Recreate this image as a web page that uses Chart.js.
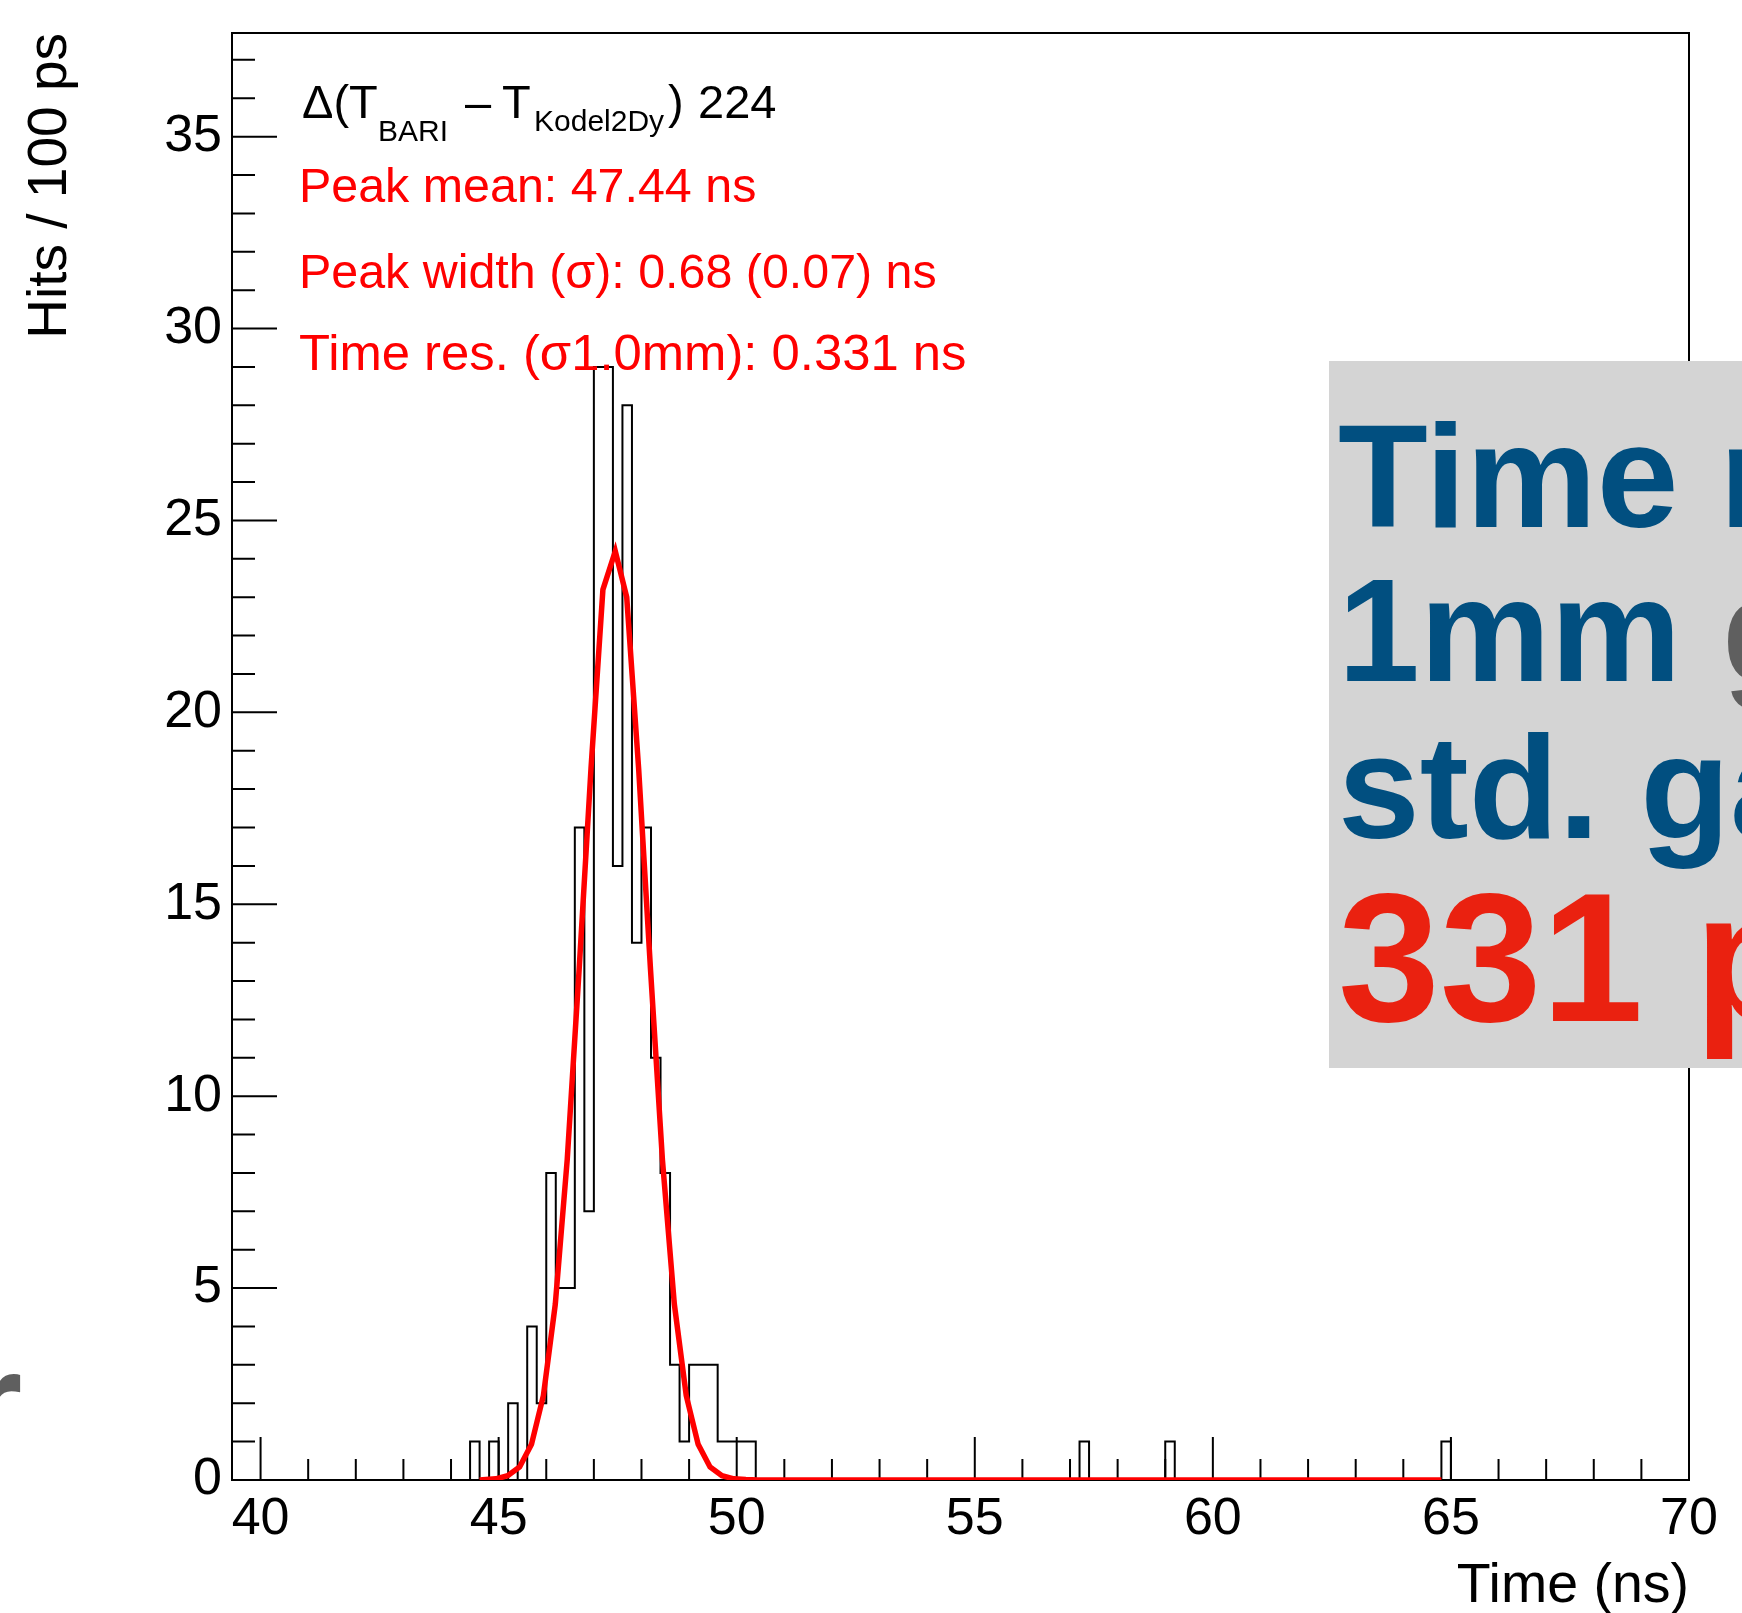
<!DOCTYPE html>
<html>
<head>
<meta charset="utf-8">
<title>Time difference BARI - Kodel2Dy</title>
<script src="https://cdn.jsdelivr.net/npm/chart.js@4.4.1/dist/chart.umd.min.js"></script>
<style>
  html, body { margin: 0; padding: 0; background: #ffffff; }
  canvas { display: block; }
</style>
</head>
<body>
<canvas id="myChart" width="1742" height="1613" style="width:1742px;height:1613px"></canvas>
<script>
const fontFam = "'Liberation Sans', Arial, Helvetica, sans-serif";

// histogram range (ns) and bin width
const xMin = 39.4;
const xMax = 70;
const yMax = 37.7;
const binWidth = 0.2;

// lower edge of each filled bin, and hits in it
const binLow = [44.4, 44.8, 45.2, 45.6, 45.8, 46.0, 46.2, 46.4, 46.6, 46.8,
                47.0, 47.2, 47.4, 47.6, 47.8, 48.0, 48.2, 48.4, 48.6, 48.8,
                49.0, 49.2, 49.4, 49.6, 49.8, 50.0, 50.2, 57.2, 59.0, 64.8];
const binHits = [1, 1, 2, 4, 2, 8, 5, 5, 17, 7,
                 29, 29, 16, 28, 14, 17, 11, 8, 3, 1,
                 3, 3, 3, 1, 1, 1, 1, 1, 1, 1];

// gaussian fit, sampled points
const fitTime = [44.6, 44.94, 45.19, 45.44, 45.69, 45.94, 46.19, 46.44, 46.69, 46.94,
                 47.19, 47.45, 47.69, 47.94, 48.19, 48.44, 48.69, 48.94, 49.19, 49.44,
                 49.69, 49.94, 50.19, 50.44, 64.8];
const fitHits = [0.0, 0.03, 0.11, 0.34, 0.93, 2.2, 4.58, 8.34, 13.29, 18.54,
                 23.2, 24.2, 23.0, 18.54, 13.29, 8.34, 4.58, 2.2, 0.93, 0.34,
                 0.11, 0.03, 0.01, 0.0, 0.0];

const xTicks = [40, 45, 50, 55, 60, 65, 70];
const yTicks = [0, 5, 10, 15, 20, 25, 30, 35];

const statLines = [
  'Peak mean: 47.44 ns',
  'Peak width (\u03c3): 0.68 (0.07) ns',
  'Time res. (\u03c31.0mm): 0.331 ns'
];

// slide overlay text, [text, colour] pieces per line
const boxLines = [
  [['Time resolution', '#014f80']],
  [['1mm ', '#014f80'], ['gap', '#5f5f5f']],
  [['std. gap', '#014f80']],
  [['331 ps', '#ea2110']]
];

// build the step outline of the histogram
const histPoints = [{x: xMin, y: 0}];
let edge = xMin;
for (let i = 0; i < binLow.length; i++) {
  const lo = binLow[i];
  if (lo - edge > 1e-6 && histPoints[histPoints.length - 1].y !== 0) {
    histPoints.push({x: edge, y: 0});
  }
  histPoints.push({x: lo, y: binHits[i]});
  edge = lo + binWidth;
}
histPoints.push({x: edge, y: 0});
histPoints.push({x: xMax, y: 0});

const fitPoints = fitTime.map((t, i) => ({x: t, y: fitHits[i]}));

const rootStyle = {
  id: 'rootStyle',
  beforeDatasetsDraw(chart) {
    const {ctx, chartArea: a, scales: {x, y}} = chart;
    ctx.save();
    ctx.strokeStyle = '#000';
    ctx.lineWidth = 2;
    ctx.strokeRect(a.left, a.top, a.right - a.left, a.bottom - a.top);
    ctx.beginPath();
    // ticks point into the frame, long ones every 5
    for (let t = Math.ceil(x.min); t <= x.max; t++) {
      const px = x.getPixelForValue(t);
      const len = t % 5 === 0 ? 43 : 21;
      ctx.moveTo(px, a.bottom);
      ctx.lineTo(px, a.bottom - len);
    }
    for (let v = Math.ceil(y.min); v <= y.max; v++) {
      const py = y.getPixelForValue(v);
      const len = v % 5 === 0 ? 45 : 23;
      ctx.moveTo(a.left, py);
      ctx.lineTo(a.left + len, py);
    }
    ctx.stroke();
    ctx.restore();
  },
  afterDatasetsDraw(chart) {
    const ctx = chart.ctx;
    ctx.save();
    ctx.textBaseline = 'alphabetic';
    ctx.textAlign = 'left';
    ctx.fillStyle = '#000';
    const big = '47px ' + fontFam;
    const sub = '30px ' + fontFam;
    ctx.font = big; ctx.fillText('\u0394(T', 302, 118);
    ctx.font = sub; ctx.fillText('BARI', 378, 141);
    ctx.font = big; ctx.fillText('\u2013', 465, 118);
    ctx.font = big; ctx.fillText('T', 502, 118);
    ctx.font = sub; ctx.fillText('Kodel2Dy', 534, 131);
    ctx.font = big; ctx.fillText(')', 668, 118);
    ctx.font = big; ctx.fillText('224', 698, 118);

    ctx.fillStyle = '#ff0000';
    const baseY = [202, 288, 370];
    const sizes = [48.4, 48.4, 50.8];
    statLines.forEach((s, i) => {
      ctx.font = sizes[i] + 'px ' + fontFam;
      ctx.fillText(s, 299, baseY[i]);
    });
    ctx.restore();
  },
  afterDraw(chart) {
    const ctx = chart.ctx;
    ctx.save();
    ctx.fillStyle = '#d4d4d4';
    ctx.fillRect(1329, 361, 420, 707);
    const sizes = [147, 147, 147, 183];
    const bases = [527, 681, 838, 1021];
    ctx.textBaseline = 'alphabetic';
    ctx.textAlign = 'left';
    boxLines.forEach((line, i) => {
      ctx.font = 'bold ' + sizes[i] + 'px ' + fontFam;
      let x = 1338;
      line.forEach(([txt, col]) => {
        ctx.fillStyle = col;
        ctx.fillText(txt, x, bases[i]);
        x += ctx.measureText(txt).width;
      });
    });
    // leftover letter of the slide text at the left edge
    ctx.font = 'bold 150px ' + fontFam;
    ctx.fillStyle = '#5f5f5f';
    ctx.fillText('r', -36, 1455);
    ctx.restore();
  }
};

const ctx = document.getElementById('myChart');
const myChart = new Chart(ctx, {
  type: 'line',
  data: {
    datasets: [{
      label: 'fit',
      data: fitPoints,
      borderColor: '#ff0000',
      borderWidth: 5.5,
      pointRadius: 0,
      tension: 0,
      fill: false,
      order: 0
    }, {
      label: 'hits',
      data: histPoints,
      borderColor: '#000000',
      borderWidth: 2,
      pointRadius: 0,
      stepped: true,
      fill: false,
      order: 1
    }]
  },
  options: {
    responsive: false,
    animation: false,
    devicePixelRatio: 1,
    events: [],
    layout: { padding: { top: 33, right: 53, left: 0, bottom: 0 } },
    plugins: { legend: { display: false }, tooltip: { enabled: false } },
    scales: {
      x: {
        type: 'linear',
        min: xMin,
        max: xMax,
        grid: { display: false, drawTicks: false },
        border: { display: false },
        afterBuildTicks: s => { s.ticks = xTicks.map(v => ({value: v})); },
        ticks: { padding: 8, color: '#000', autoSkip: false, maxRotation: 0,
                 font: { size: 52, family: fontFam } },
        title: { display: true, text: 'Time (ns)', align: 'end', color: '#000',
                 font: { size: 55.5, family: fontFam }, padding: { top: 0, bottom: -7 } },
        afterFit: s => { s.height = 133; s.paddingLeft = 0; s.paddingRight = 0; }
      },
      y: {
        type: 'linear',
        min: 0,
        max: yMax,
        grid: { display: false, drawTicks: false },
        border: { display: false },
        afterBuildTicks: s => { s.ticks = yTicks.map(v => ({value: v})); },
        ticks: { padding: 10, color: '#000', autoSkip: false,
                 font: { size: 52, family: fontFam } },
        title: { display: true, text: 'Hits / 100 ps', align: 'end', color: '#000',
                 font: { size: 55, family: fontFam }, padding: { top: 18, bottom: 0 } },
        afterFit: s => { s.width = 232; s.paddingTop = 0; s.paddingBottom = 0; }
      }
    }
  },
  plugins: [rootStyle]
});
</script>
</body>
</html>
